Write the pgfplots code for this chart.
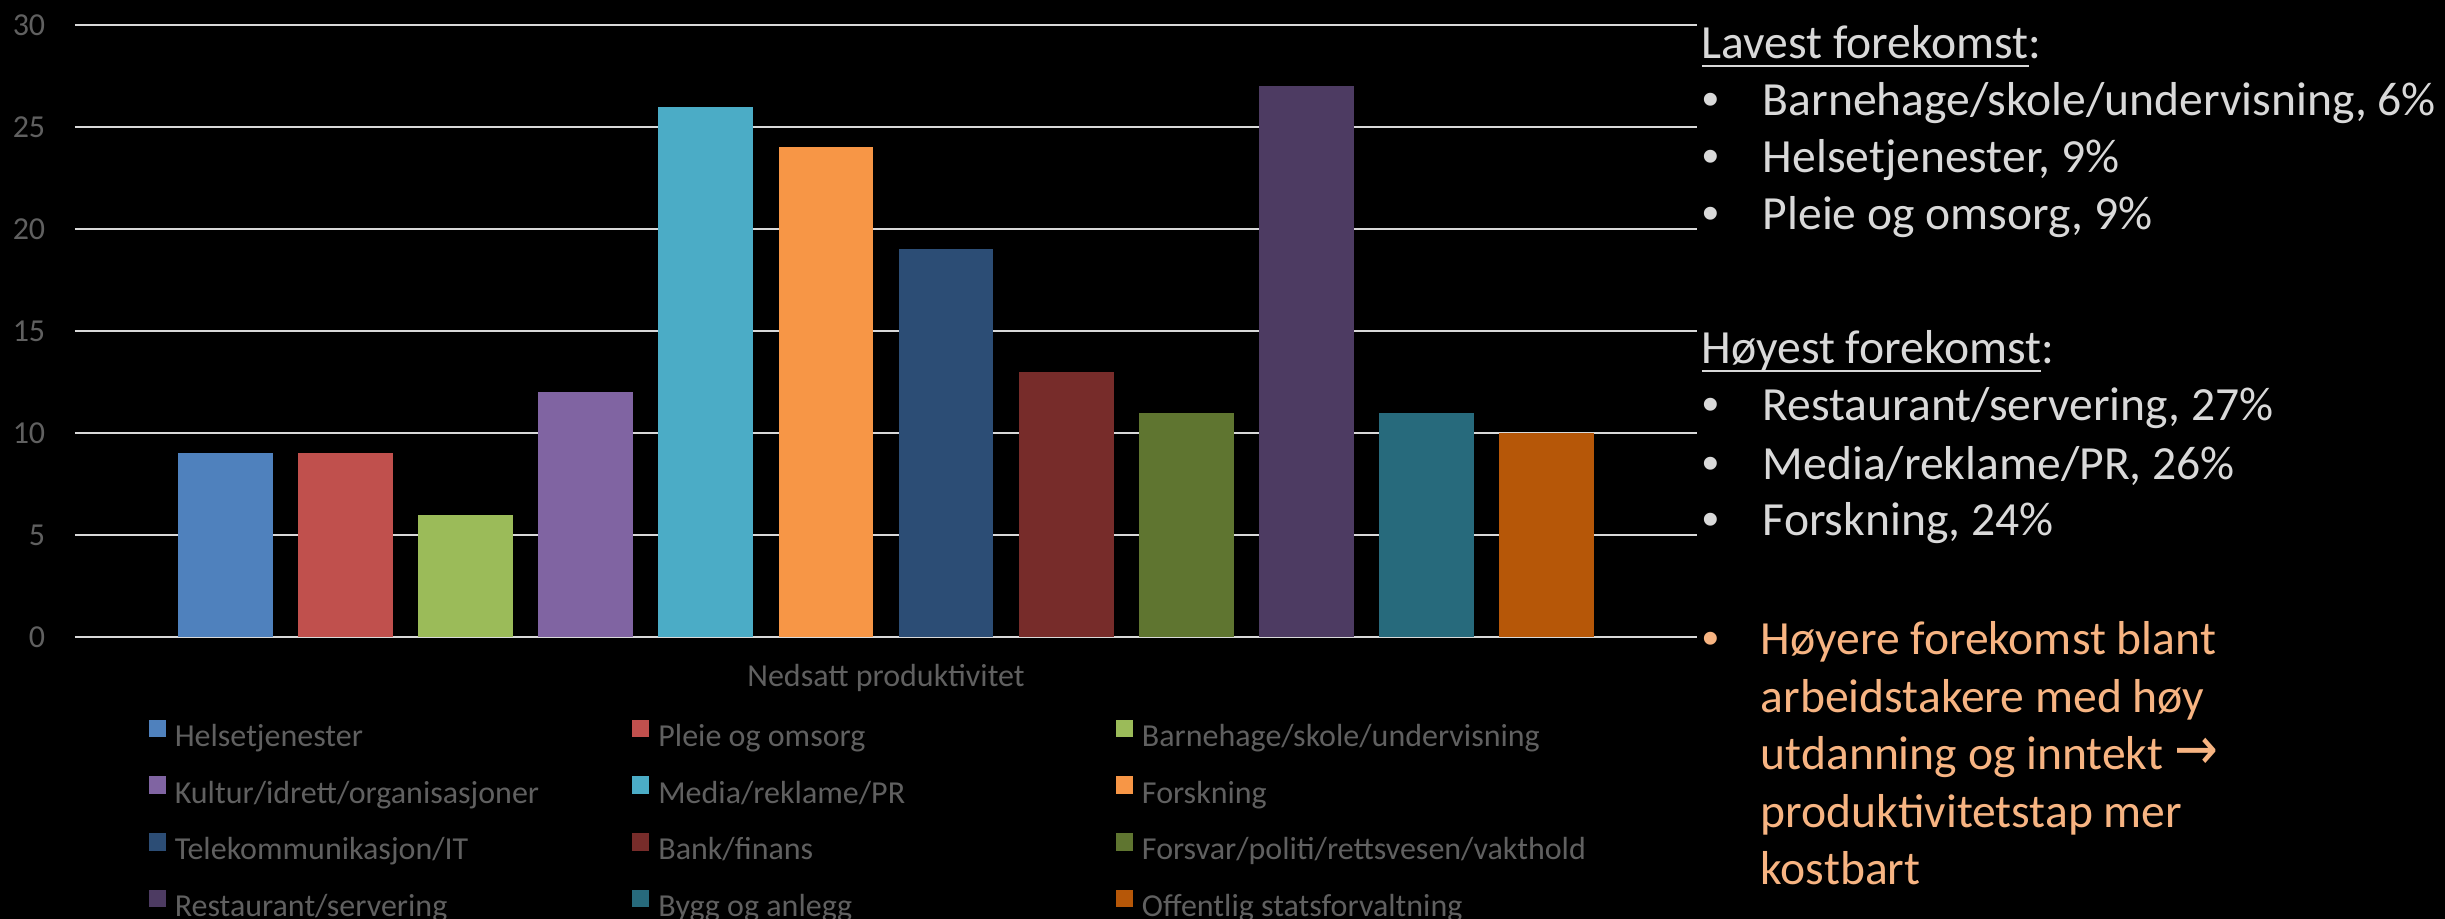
\documentclass[border=0pt]{standalone}
\usepackage{pgfplots}
\pgfplotsset{compat=1.18}
\usepackage{fontspec}
\setmainfont{Carlito}
\newfontfamily\bulletfont{Liberation Sans}
\newfontfamily\arrowfont{DejaVu Sans}

\definecolor{c1}{HTML}{4F81BD}
\definecolor{c2}{HTML}{C0504D}
\definecolor{c3}{HTML}{9BBB59}
\definecolor{c4}{HTML}{8064A2}
\definecolor{c5}{HTML}{4BACC6}
\definecolor{c6}{HTML}{F79646}
\definecolor{c7}{HTML}{2C4D75}
\definecolor{c8}{HTML}{772C2A}
\definecolor{c9}{HTML}{5F7530}
\definecolor{c10}{HTML}{4D3B62}
\definecolor{c11}{HTML}{276A7C}
\definecolor{c12}{HTML}{B65708}
\definecolor{ticktext}{HTML}{606060}
\definecolor{gridc}{HTML}{D9D9D9}
\definecolor{notetext}{HTML}{D9D9D9}
\definecolor{orangetext}{RGB}{247,180,130}

% legend entries get a fixed width so the three columns line up
\newcommand\legent[1]{\makebox[114.4pt][l]{#1}}
% underline that crosses descenders, as in Office
\newcommand\uln[1]{\setbox0\hbox{#1}\rlap{\rule[-1.9pt]{\wd0}{0.5pt}}\box0}
\newcommand\bul{{\bulletfont\textbullet}}

\pgfplotsset{
  sq/.style={bar shift=0pt, draw=none, fill=#1,
    legend image code/.code={\fill[##1] (0pt,0pt) rectangle (4.25pt,4.4pt);}},
}

\begin{document}
\begin{tikzpicture}[x=0.25pt,y=0.25pt]
\fill[black, use as bounding box] (0,0) rectangle (2445,919);

\begin{axis}[
  at={(18.75pt,70.5pt)}, anchor=south west,
  scale only axis, width=405.5pt, height=153pt,
  ybar, bar width=0.79, bar shift=0pt,
  xmin=-0.255, xmax=13.255, ymin=0, ymax=30,
  ytick={0,5,...,30}, xtick=\empty,
  ymajorgrids, grid style={gridc, line width=0.5pt},
  axis line style={draw=none}, major tick length=0pt,
  /pgf/number format/assume math mode=true,
  yticklabel style={font=\fontsize{8}{9}\selectfont, text=ticktext,
    anchor=east, inner sep=0pt, xshift=-7.25pt},
  xlabel={Nedsatt produktivitet},
  xlabel style={at={(axis description cs:0.5,-0.067)}, anchor=center,
    font=\fontsize{8}{9}\selectfont, text=ticktext, inner sep=0pt},
  legend columns=3,
  legend style={at={(axis description cs:0.045,-0.134)}, anchor=north west,
    draw=none, fill=none, inner sep=0pt, row sep=6pt,
    nodes={inner sep=0pt, text height=6pt, text depth=1.5pt},
    font=\fontsize{8}{9}\selectfont, text=ticktext,
    /tikz/every odd column/.append style={column sep=2.25pt}},
]
\addplot[sq=c1]  coordinates {(1,9)};  \addlegendentry{\legent{Helsetjenester}}
\addplot[sq=c2]  coordinates {(2,9)};  \addlegendentry{\legent{Pleie og omsorg}}
\addplot[sq=c3]  coordinates {(3,6)};  \addlegendentry{\legent{Barnehage/skole/undervisning}}
\addplot[sq=c4]  coordinates {(4,12)}; \addlegendentry{\legent{Kultur/idrett/organisasjoner}}
\addplot[sq=c5]  coordinates {(5,26)}; \addlegendentry{\legent{Media/reklame/PR}}
\addplot[sq=c6]  coordinates {(6,24)}; \addlegendentry{\legent{Forskning}}
\addplot[sq=c7]  coordinates {(7,19)}; \addlegendentry{\legent{Telekommunikasjon/IT}}
\addplot[sq=c8]  coordinates {(8,13)}; \addlegendentry{\legent{Bank/finans}}
\addplot[sq=c9]  coordinates {(9,11)}; \addlegendentry{\legent{Forsvar/politi/rettsvesen/vakthold}}
\addplot[sq=c10] coordinates {(10,27)};\addlegendentry{\legent{Restaurant/servering}}
\addplot[sq=c11] coordinates {(11,11)};\addlegendentry{\legent{Bygg og anlegg}}
\addplot[sq=c12] coordinates {(12,10)};\addlegendentry{\legent{Offentlig statsforvaltning}}
\end{axis}

% notes on the right
\begin{scope}[every node/.style={anchor=base west, inner sep=0pt,
    font=\fontsize{11.9}{14}\selectfont, text=notetext}]
\node at (1701,860) {\uln{Lavest forekomst}:};
\node at (1702,803) {\bul};  \node at (1762,803) {Barnehage/skole/undervisning, 6\%};
\node at (1702,746) {\bul};  \node at (1762,746) {Helsetjenester, 9\%};
\node at (1702,689) {\bul};  \node at (1762,689) {Pleie og omsorg, 9\%};
\node at (1701,555) {\uln{Høyest forekomst}:};
\node at (1702,498) {\bul};  \node at (1762,498) {Restaurant/servering, 27\%};
\node at (1702,439) {\bul};  \node at (1762,439) {Media/reklame/PR, 26\%};
\node at (1702,383) {\bul};  \node at (1762,383) {Forskning, 24\%};
\end{scope}
\begin{scope}[every node/.style={anchor=base west, inner sep=0pt,
    font=\fontsize{11.9}{14}\selectfont, text=orangetext}]
\node at (1702,264) {\bul};
\node at (1760,264) {Høyere forekomst blant};
\node at (1760,206) {arbeidstakere med høy};
\node at (1760,149) {utdanning og inntekt {\arrowfont\scalebox{1.1}[1.25]{→}}};
\node at (1760,91)  {produktivitetstap mer};
\node at (1760,34)  {kostbart};
\end{scope}
\end{tikzpicture}
\end{document}
